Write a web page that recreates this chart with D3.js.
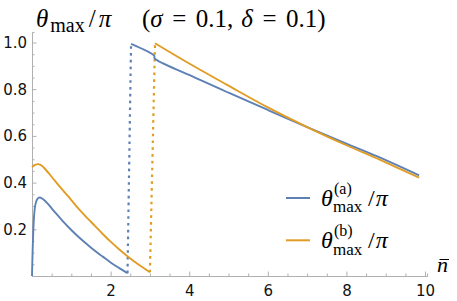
<!DOCTYPE html>
<html>
<head>
<meta charset="utf-8">
<script src="https://cdn.jsdelivr.net/npm/d3@7/dist/d3.min.js"></script>
<style>
  body { margin: 0; background: #fff; }
  svg { display: block; }
</style>
</head>
<body>
<svg id="chart"></svg>
<script>
// theta_max / pi for the two cases
// case (a), low-n branch and high-n branch
let nA1 = [0, 0.02, 0.05, 0.08, 0.12, 0.16, 0.2, 0.3, 0.4, 0.5, 0.6, 0.8, 1.0, 1.2, 1.4, 1.6, 1.8, 2.0, 2.2, 2.43]
let thA1 = [0, 0.13, 0.25, 0.30, 0.325, 0.334, 0.336, 0.327, 0.31, 0.29, 0.27, 0.232, 0.197, 0.165, 0.136, 0.108, 0.083, 0.058, 0.036, 0.012]
let nA2 = [2.52, 3.11, 3.12, 4.0, 5.0, 6.0, 7.0, 8.0, 8.8, 9.85]
let thA2 = [0.994, 0.943, 0.932, 0.861, 0.785, 0.711, 0.638, 0.567, 0.511, 0.431]

// case (b)
let nB1 = [0, 0.08, 0.16, 0.25, 0.35, 0.5, 0.7, 0.9, 1.0, 1.2, 1.4, 1.6, 1.8, 2.0, 2.2, 2.42, 2.7, 3.0]
let thB1 = [0.467, 0.476, 0.479, 0.472, 0.455, 0.425, 0.384, 0.345, 0.325, 0.285, 0.249, 0.215, 0.18, 0.147, 0.117, 0.086, 0.05, 0.016]
let nB2 = [3.13, 4.0, 5.0, 6.0, 7.0, 8.0, 8.86, 9.85]
let thB2 = [0.997, 0.91, 0.815, 0.722, 0.638, 0.56, 0.497, 0.421]

let xMajor = [2, 4, 6, 8, 10]
let yMajor = [0.2, 0.4, 0.6, 0.8, 1.0]

let blue = '#5e81b5'
let orange = '#e19c24'

let width = 457
let height = 301

let svg = d3.select('#chart')
    .attr('width', width)
    .attr('height', height)

let xScale = d3.scaleLinear().domain([0, 10.05]).range([32, 427])
let yScale = d3.scaleLinear().domain([0, 1.045]).range([276, 32])

// axes (Mathematica style: ticks pointing into the plot)
let axisColor = '#b0b0b0'

let xMinor = d3.range(0.5, 10, 0.5).filter(v => v % 2 !== 0)
let yMinor = d3.range(1, 20).map(i => i * 0.05).filter(v => Math.abs(v * 5 - Math.round(v * 5)) > 1e-6)

svg.append('g')
    .attr('transform', 'translate(0,' + yScale(0) + ')')
    .call(d3.axisBottom(xScale).tickValues(xMinor).tickSize(-2.5).tickFormat(''))
svg.append('g')
    .attr('transform', 'translate(0,' + yScale(0) + ')')
    .call(d3.axisBottom(xScale).tickValues(xMajor).tickSize(-4.5).tickSizeOuter(0).tickPadding(9).tickFormat(d3.format('d')))

svg.append('g')
    .attr('transform', 'translate(' + xScale(0) + ',0)')
    .call(d3.axisLeft(yScale).tickValues(yMinor).tickSize(-2.5).tickFormat(''))
svg.append('g')
    .attr('transform', 'translate(' + xScale(0) + ',0)')
    .call(d3.axisLeft(yScale).tickValues(yMajor).tickSize(-4.5).tickSizeOuter(0).tickPadding(5).tickFormat(d3.format('.1f')))

svg.selectAll('.domain').attr('stroke', axisColor)
svg.selectAll('.tick line').attr('stroke', axisColor)
svg.selectAll('.tick text')
    .attr('font-family', 'DejaVu Sans')
    .attr('font-size', 15)
    .attr('fill', '#111')

// curves
let line = d3.line()
    .x(d => xScale(d[0]))
    .y(d => yScale(d[1]))
    .curve(d3.curveCatmullRom.alpha(0.5))

let zip = (xs, ys) => xs.map((v, i) => [v, ys[i]])

let segments = [
    { pts: zip(nA1, thA1), color: blue },
    { pts: zip(nA2, thA2), color: blue },
    { pts: zip(nB1, thB1), color: orange },
    { pts: zip(nB2, thB2), color: orange }
]

// dotted jumps join the end of a low branch to the start of the high branch
let jumps = [
    { pts: [[nA1[nA1.length - 1], thA1[thA1.length - 1]], [nA2[0], thA2[0]]], color: blue },
    { pts: [[nB1[nB1.length - 1], thB1[thB1.length - 1]], [nB2[0], thB2[0]]], color: orange }
]

svg.selectAll('path.jump')
    .data(jumps)
    .enter()
    .append('path')
    .attr('class', 'jump')
    .attr('d', d => d3.line().x(p => xScale(p[0])).y(p => yScale(p[1]))(d.pts))
    .attr('fill', 'none')
    .attr('stroke', d => d.color)
    .attr('stroke-width', 2.2)
    .attr('stroke-dasharray', '2.6 4.2')

svg.selectAll('path.curve')
    .data(segments)
    .enter()
    .append('path')
    .attr('class', 'curve')
    .attr('d', d => line(d.pts))
    .attr('fill', 'none')
    .attr('stroke', d => d.color)
    .attr('stroke-width', 1.9)
    .attr('stroke-linejoin', 'round')

// title
let serif = 'Liberation Serif'
let title = svg.append('text')
    .attr('x', 36)
    .attr('y', 27)
    .attr('font-family', serif)
    .attr('font-size', 25)
    .attr('fill', '#000')
title.append('tspan').attr('font-style', 'italic').text('θ')
title.append('tspan').attr('font-size', 20).attr('dx', 2).attr('dy', 5).text('max')
title.append('tspan').attr('dx', 4).attr('dy', -5).text('/')
title.append('tspan').attr('font-style', 'italic').attr('dx', 3).text('π')

let params = svg.append('text')
    .attr('x', 142)
    .attr('y', 27)
    .attr('font-family', serif)
    .attr('font-size', 25)
    .attr('fill', '#000')
params.append('tspan').text('(')
params.append('tspan').attr('font-style', 'italic').text('σ')
params.append('tspan').attr('dx', 9.5).text('=')
params.append('tspan').attr('dx', 9.5).text('0.1,')
params.append('tspan').attr('dx', 8).attr('font-style', 'italic').text('δ')
params.append('tspan').attr('dx', 9.5).text('=')
params.append('tspan').attr('dx', 9.5).text('0.1)')

// x-axis label n-bar
svg.append('text')
    .attr('x', 437)
    .attr('y', 272)
    .attr('font-family', serif)
    .attr('font-size', 22)
    .attr('font-style', 'italic')
    .attr('fill', '#000')
    .text('n')
svg.append('line')
    .attr('x1', 439.5).attr('x2', 449)
    .attr('y1', 259.5).attr('y2', 259.5)
    .attr('stroke', '#000')
    .attr('stroke-width', 1)

// legend
let legendItems = [
    { tag: '(a)', color: blue },
    { tag: '(b)', color: orange }
]
let legend = svg.selectAll('g.legend')
    .data(legendItems)
    .enter()
    .append('g')
    .attr('class', 'legend')
    .attr('transform', (d, i) => 'translate(286,' + (198 + i * 42.3) + ')')

legend.append('line')
    .attr('x1', 0).attr('x2', 24)
    .attr('y1', 0).attr('y2', 0)
    .attr('stroke', d => d.color)
    .attr('stroke-width', 2)

legend.each(function(d) {
    let g = d3.select(this)
    g.append('text')
        .attr('x', 35)
        .attr('y', 8)
        .attr('font-family', serif)
        .attr('font-size', 24)
        .attr('font-style', 'italic')
        .attr('fill', '#000')
        .text('θ')
    // superscript tag and subscript stacked after theta
    g.append('text')
        .attr('x', 48)
        .attr('y', -4.5)
        .attr('font-family', serif)
        .attr('font-size', 16)
        .attr('fill', '#000')
        .text(d.tag)
    g.append('text')
        .attr('x', 47)
        .attr('y', 14.3)
        .attr('font-family', serif)
        .attr('font-size', 17)
        .attr('fill', '#000')
        .text('max')
    let t2 = g.append('text')
        .attr('x', 82)
        .attr('y', 8)
        .attr('font-family', serif)
        .attr('font-size', 24)
        .attr('fill', '#000')
    t2.append('tspan').text('/')
    t2.append('tspan').attr('font-style', 'italic').attr('dx', 1).text('π')
})
</script>
</body>
</html>
